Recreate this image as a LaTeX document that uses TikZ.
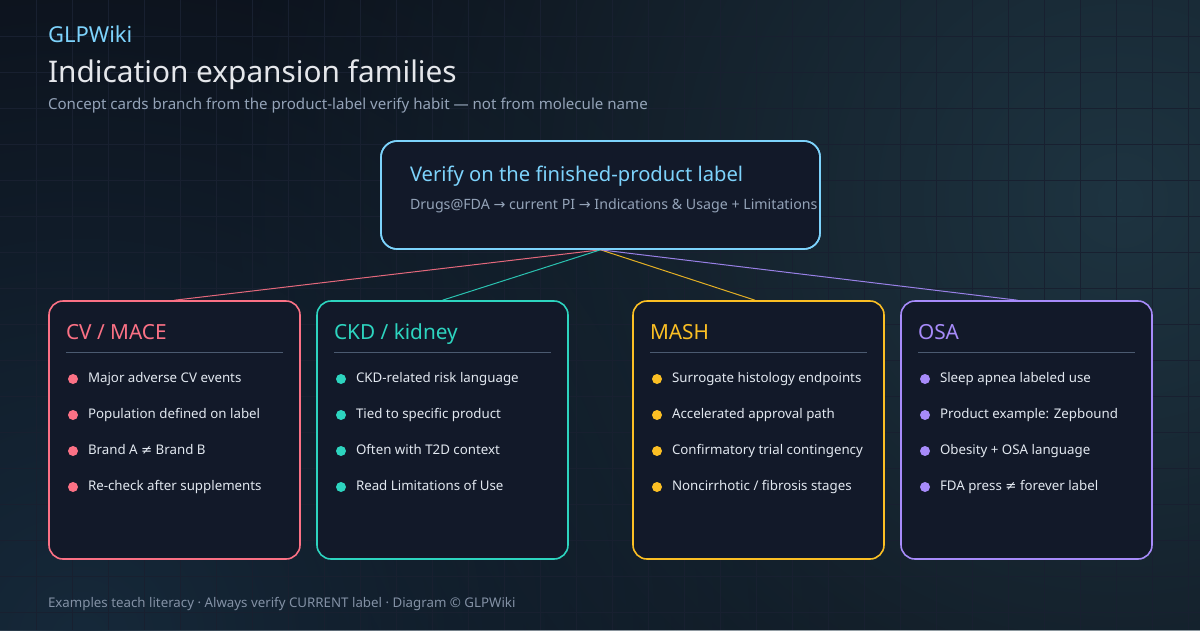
\documentclass[tikz,border=0pt]{standalone}
\usepackage{fontspec}
\setmainfont{Noto Sans}
\newfontfamily\symfont{DejaVu Sans}
\usetikzlibrary{fadings,calc}
\definecolor{bg}{HTML}{0B0F18}
\definecolor{glowA}{HTML}{1E3441}
\definecolor{glowB}{HTML}{16293A}
\definecolor{gridc}{HTML}{182030}
\definecolor{cardfill}{HTML}{121929}
\definecolor{skyc}{HTML}{7DD3FC}
\definecolor{rosec}{HTML}{FB7185}
\definecolor{tealc}{HTML}{2DD4BF}
\definecolor{amberc}{HTML}{FBBF24}
\definecolor{violetc}{HTML}{A78BFA}
\definecolor{titlec}{HTML}{E5E7EB}
\definecolor{mutedc}{HTML}{94A3B8}
\definecolor{footc}{HTML}{8391A5}
\definecolor{itemc}{HTML}{E2E8F0}
\definecolor{sepc}{HTML}{4B5A70}
\tikzfading[name=glowfade, inner color=transparent!0, outer color=transparent!100]
\tikzset{
  txt/.style={anchor=base west, inner sep=0pt, outer sep=0pt},
  card/.style={draw=#1, fill=cardfill, line width=1.6pt, rounded corners=14pt,
    minimum width=251pt, minimum height=258pt, inner sep=0pt},
  link/.style={draw=#1, line width=1pt, draw opacity=0.9},
  cardtitle/.style={txt, text=#1, font=\fontsize{20.8}{24}\selectfont},
  item/.style={txt, text=itemc, font=\fontsize{13.3}{16}\selectfont},
  dot/.style={circle, fill=#1, minimum size=10pt, inner sep=0pt},
  sep/.style={draw=sepc, line width=1pt}
}
\begin{document}
\begin{tikzpicture}[x=1pt,y=-1pt]
\useasboundingbox (0,0) rectangle (1200,630);
\fill[bg] (0,0) rectangle (1200,630);
\fill[glowA, path fading=glowfade] (1120,200) circle (900);
\fill[glowB, path fading=glowfade] (80,640) circle (800);
\foreach \i in {36,72,...,1188} \draw[gridc, line width=0.8pt] (\i,0) -- (\i,630);
\foreach \j in {36,72,...,612} \draw[gridc, line width=0.8pt] (0,\j) -- (1200,\j);

% header
\node[txt, text=skyc, font=\fontsize{22}{26}\selectfont] (brand) at (48,42) {GLPWiki};
\node[txt, text=titlec, font=\fontsize{29.8}{34}\selectfont] (title) at (48,82) {Indication expansion families};
\node[txt, text=mutedc, font=\fontsize{15.1}{18}\selectfont] (sub) at (48,109) {Concept cards branch from the product-label verify habit — not from molecule name};

% top box
\node[draw=skyc, fill=cardfill, line width=1.6pt, rounded corners=16pt, minimum width=439pt, minimum height=108pt, inner sep=0pt] (verify) at (600.5,195) {};

% cards
\node[card=rosec] (cv) at (174.5,430) {};
\node[card=tealc] (ckd) at (442.5,430) {};
\node[card=amberc] (mash) at (758.5,430) {};
\node[card=violetc] (osa) at (1026.5,430) {};

% connectors
\draw[link=rosec] (verify.south) -- (cv.north);
\draw[link=tealc] (verify.south) -- (ckd.north);
\draw[link=amberc] (verify.south) -- ($(mash.north)+(-3.5,0)$);
\draw[link=violetc] (verify.south) -- ($(osa.north)+(-9,0)$);

% redraw borders over link ends
\node[draw=skyc, line width=1.6pt, rounded corners=16pt, minimum width=439pt, minimum height=108pt, inner sep=0pt] (verifyb) at (600.5,195) {};

\node[txt, text=skyc, font=\fontsize{20.2}{24}\selectfont] (vt) at (410,181) {Verify on the finished-product label};
\node[txt, text=mutedc, font=\fontsize{14.2}{17}\selectfont] (vs) at (410,209) {Drugs@FDA {\symfont→} current PI {\symfont→} Indications \& Usage + Limitations};

% card contents
\foreach \nm/\cx/\col/\ttl/\a/\b/\c/\d in {
  cv/49/rosec/{CV / MACE}/{Major adverse CV events}/{Population defined on label}/{Brand A {\symfont≠} Brand B}/{Re-check after supplements},
  ckd/317/tealc/{CKD / kidney}/{CKD-related risk language}/{Tied to specific product}/{Often with T2D context}/{Read Limitations of Use},
  mash/633/amberc/{MASH}/{Surrogate histology endpoints}/{Accelerated approval path}/{Confirmatory trial contingency}/{Noncirrhotic / fibrosis stages},
  osa/901/violetc/{OSA}/{Sleep apnea labeled use}/{Product example: Zepbound}/{Obesity + OSA language}/{FDA press {\symfont≠} forever label}}
{
  \node[cardtitle=\col] (\nm-t) at (\cx+17,339) {\ttl};
  \draw[sep] (\cx+17,352) -- (\cx+234,352);
  \node[dot=\col] (\nm-d1) at (\cx+24,379) {};
  \node[dot=\col] (\nm-d2) at (\cx+24,415) {};
  \node[dot=\col] (\nm-d3) at (\cx+24,451) {};
  \node[dot=\col] (\nm-d4) at (\cx+24,487) {};
  \node[item] (\nm-i1) at (\cx+39,382) {\a};
  \node[item] (\nm-i2) at (\cx+39,418) {\b};
  \node[item] (\nm-i3) at (\cx+39,454) {\c};
  \node[item] (\nm-i4) at (\cx+39,490) {\d};
}

% footer
\node[txt, text=footc, font=\fontsize{13.3}{16}\selectfont] (foot) at (48,607) {Examples teach literacy · Always verify CURRENT label · Diagram © GLPWiki};
\end{tikzpicture}
\end{document}
